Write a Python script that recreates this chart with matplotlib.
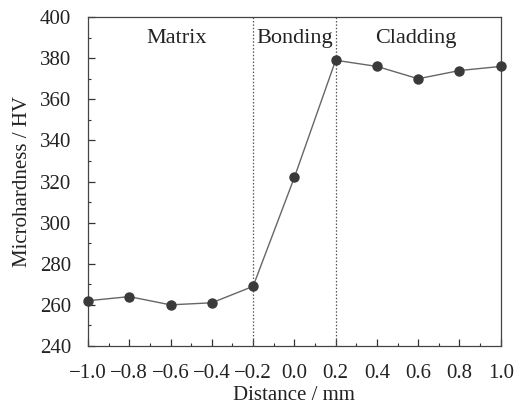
import matplotlib
matplotlib.use("Agg")
import matplotlib.pyplot as plt
from matplotlib.ticker import MultipleLocator

distance = [-1.0, -0.8, -0.6, -0.4, -0.2, 0.0, 0.2, 0.4, 0.6, 0.8, 1.0]
hardness = [262, 264, 260, 261, 269, 322, 379, 376, 370, 374, 376]
boundaries = [-0.2, 0.2]
regions = ["Matrix", "Bonding", "Cladding"]
region_x = [-0.57, 0.0, 0.59]

plt.rcParams['font.family'] = ['Liberation Serif', 'DejaVu Serif']
fig = plt.figure(figsize=(5.16, 4.07), dpi=100)
ax = fig.add_axes([0.1705, 0.150, 0.800, 0.808])

ax.plot(distance, hardness, '-', color='#666666', lw=1.0, zorder=3)
ax.plot(distance, hardness, 'o', color='#3a3a3a', ms=6.5, zorder=4, clip_on=False)
for b in boundaries:
    ax.axvline(b, color='#555555', lw=0.9, ls=(0, (1.2, 1.5)), zorder=2)
for r, xr in zip(regions, region_x):
    ax.text(xr, 389.5, r, ha='center', va='center', fontsize=16, color='#222222')

ax.set_xlim(-1.0, 1.0)
ax.set_ylim(240, 400)
ax.xaxis.set_major_locator(MultipleLocator(0.2))
ax.xaxis.set_minor_locator(MultipleLocator(0.1))
ax.yaxis.set_major_locator(MultipleLocator(20))
ax.yaxis.set_minor_locator(MultipleLocator(10))
ax.set_xticks([-1.0, -0.8, -0.6, -0.4, -0.2, 0.0, 0.2, 0.4, 0.6, 0.8, 1.0])
ax.set_xticklabels(['\u22121.0', '\u22120.8', '\u22120.6', '\u22120.4', '\u22120.2', '0.0', '0.2', '0.4', '0.6', '0.8', '1.0'])
ax.tick_params(which='both', direction='in', top=False, right=False, labelsize=15, colors='#333333', labelcolor='#222222')
ax.tick_params(which='major', length=5, width=0.9)
ax.tick_params(which='minor', length=2.5, width=0.8)
ax.tick_params(axis='x', which='major', pad=13)
ax.tick_params(axis='y', which='major', pad=12)
for s in ax.spines.values():
    s.set_color('#444444')
    s.set_linewidth(0.9)
ax.set_xlabel('Distance / mm', fontsize=15, color='#222222', labelpad=2)
ax.set_ylabel('Microhardness / HV', fontsize=15, color='#222222', labelpad=6)

fig.savefig('out.png', dpi=100)
